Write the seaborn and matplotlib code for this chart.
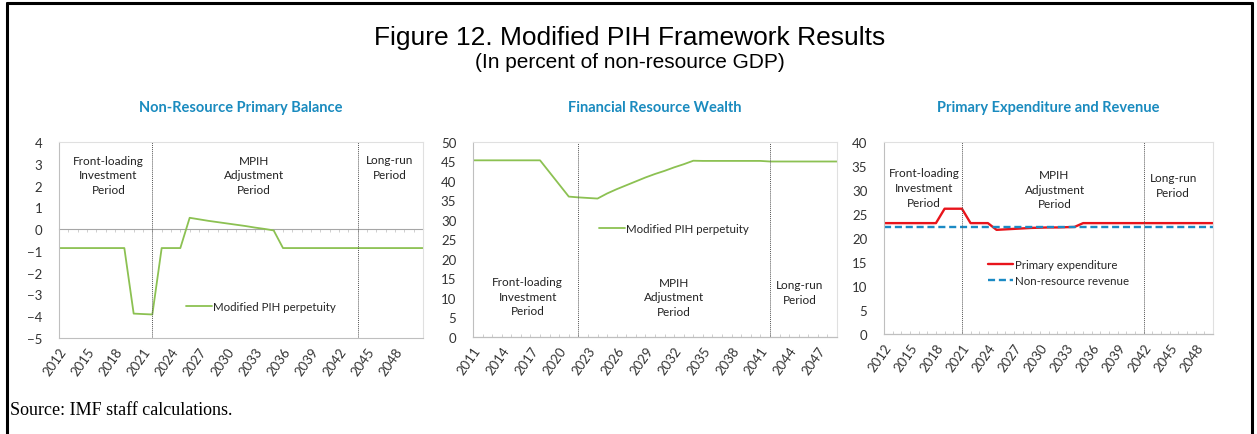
import numpy as np
import pandas as pd
import matplotlib
matplotlib.use("Agg")
import matplotlib.pyplot as plt
import seaborn as sns
from matplotlib.lines import Line2D
from matplotlib.ticker import MultipleLocator

# data
years_balance = list(range(2012, 2052))
primary_balance = ([-0.87] * 8 + [-3.88, -3.90, -3.92] + [-0.87] * 3 +
                   [0.52, 0.45, 0.38, 0.32, 0.26, 0.20, 0.14, 0.07, 0.01, -0.06] +
                   [-0.87] * 16)

years_wealth = list(range(2011, 2050))
resource_wealth = ([45.3] * 8 + [42.2, 39.1, 36.0] + [35.8, 35.65, 35.5] +
                   [36.8, 37.9, 38.9, 39.9, 40.9, 41.8, 42.6, 43.5, 44.3, 45.2] +
                   [45.15] * 7 + [45.0] * 8)

years_exp = list(range(2012, 2051))
primary_expenditure = ([23.1] * 7 + [26.1] * 3 + [23.1] * 3 +
                       [21.7, 21.8, 21.9, 22.0, 22.1, 22.15, 22.2, 22.2, 22.25, 22.3] +
                       [23.1] * 16)
nonresource_revenue = [22.2] * 39

period_labels = ["Front-loading\nInvestment\nPeriod", "MPIH\nAdjustment\nPeriod", "Long-run\nPeriod"]
panel_titles = ["Non-Resource Primary Balance", "Financial Resource Wealth",
                "Primary Expenditure and Revenue"]

GREEN = "#8cc152"
RED = "#e8141b"
BLUE = "#1b8ac4"
TEAL = "#1a8bbf"
GRID = "#bfbfbf"

sns.set_theme(style="white")
plt.rcParams["font.family"] = ["Lato", "DejaVu Sans"]

W, H = 1257, 435
fig = plt.figure(figsize=(W / 100, H / 100), dpi=100)


def px_axes(left, right, top, bottom):
    return fig.add_axes([left / W, 1 - bottom / H, (right - left) / W, (bottom - top) / H])


def style_axes(ax, xmin, xmax, first_label):
    ax.set_xlim(xmin, xmax)
    ax.set_xticks(range(first_label, 2049, 3))
    ax.set_xticklabels([str(y) for y in range(first_label, 2049, 3)], rotation=55,
                       ha="right", rotation_mode="anchor", fontsize=9.5, color="#333333")
    ax.tick_params(axis="y", labelsize=9.5, colors="#333333", length=0, pad=12)
    ax.tick_params(axis="x", length=0, pad=5)
    for side in ["top", "right"]:
        ax.spines[side].set_color("#e0e0e0")
        ax.spines[side].set_linewidth(0.8)
    ax.spines["left"].set_color(GRID)
    ax.spines["left"].set_linewidth(0.8)
    ax.spines["bottom"].set_color(GRID)
    ax.spines["bottom"].set_linewidth(0.8)
    ax.set_xlabel("")
    ax.set_ylabel("")


def year_ticks(ax, loc):
    sec = ax.secondary_xaxis(loc)
    sec.xaxis.set_major_locator(MultipleLocator(1))
    sec.tick_params(axis="x", direction="in", length=2.5, width=0.6, color="#c8c8c8",
                    labelbottom=False, labeltop=False)
    for sp in sec.spines.values():
        sp.set_color("#a6a6a6")
        sp.set_linewidth(0.8)
    return sec


def period_text(ax, positions):
    for (x, y), label in zip(positions, period_labels):
        ax.text(x, y, label, ha="center", va="center", fontsize=8.5, linespacing=1.4,
                color="#222222")


# Panel 1
ax1 = px_axes(59, 423, 143, 339)
df1 = pd.DataFrame({"year": years_balance, "value": primary_balance})
sns.lineplot(data=df1, x="year", y="value", ax=ax1, color=GREEN, lw=1.3,
             label="Modified PIH perpetuity")
ax1.set_ylim(-5, 4)
ax1.set_yticks(range(-5, 5))
style_axes(ax1, 2012, 2051, 2012)
year_ticks(ax1, 5 / 9)
ax1.axvline(2022, color="#555555", lw=0.7, ls=(0, (1, 1)))
ax1.axvline(2044, color="#555555", lw=0.7, ls=(0, (1, 1)))
period_text(ax1, [(2017.3, 2.5), (2032.9, 2.5), (2047.4, 2.85)])
ax1.legend(loc="center", bbox_to_anchor=(0.555, 0.163), frameon=False, fontsize=8.3,
           handlelength=2.2, handletextpad=0.1)

# Panel 2
ax2 = px_axes(473, 837, 143, 338)
df2 = pd.DataFrame({"year": years_wealth, "value": resource_wealth})
sns.lineplot(data=df2, x="year", y="value", ax=ax2, color=GREEN, lw=1.3,
             label="Modified PIH perpetuity")
ax2.set_ylim(0, 50)
ax2.set_yticks(range(0, 51, 5))
style_axes(ax2, 2011, 2049, 2011)
year_ticks(ax2, 0)
ax2.axvline(2022, color="#555555", lw=0.7, ls=(0, (1, 1)))
ax2.axvline(2042, color="#555555", lw=0.7, ls=(0, (1, 1)))
period_text(ax2, [(2016.7, 10.5), (2032.0, 10.3), (2045.1, 11.6)])
ax2.legend(loc="center", bbox_to_anchor=(0.552, 0.554), frameon=False, fontsize=8.3,
           handlelength=2.2, handletextpad=0.1)

# Panel 3
ax3 = px_axes(884, 1213, 143, 335)
df3 = pd.DataFrame({"year": years_exp * 2,
                    "value": primary_expenditure + nonresource_revenue,
                    "series": ["Primary expenditure"] * len(years_exp) +
                              ["Non-resource revenue"] * len(years_exp)})
sns.lineplot(data=df3, x="year", y="value", hue="series", style="series", ax=ax3,
             palette=[RED, BLUE], dashes=[(None, None), (3, 1.6)], lw=1.7)
ax3.set_ylim(0, 40)
ax3.set_yticks(range(0, 41, 5))
style_axes(ax3, 2012, 2050, 2012)
year_ticks(ax3, 0)
ax3.axvline(2021, color="#555555", lw=0.7, ls=(0, (1, 1)))
ax3.axvline(2042, color="#555555", lw=0.7, ls=(0, (1, 1)))
period_text(ax3, [(2016.6, 30.5), (2031.7, 30.2), (2045.4, 31.0)])
ax3.legend(loc="center", bbox_to_anchor=(0.53, 0.32), frameon=False, fontsize=8.3,
           handlelength=2.2, handletextpad=0.1, labelspacing=0.5)

# panel titles
for ax, title in zip([ax1, ax2, ax3], panel_titles):
    ax.set_title(title, fontsize=10.5, fontweight="bold", color=TEAL, pad=22)

# figure header and footer
fig.text(630 / W, 1 - 38 / H, "Figure 12. Modified PIH Framework Results", ha="center",
         va="center", fontsize=19, family="Liberation Sans", color="black")
fig.text(630 / W, 1 - 63 / H, "(In percent of non-resource GDP)", ha="center",
         va="center", fontsize=15, family="Liberation Sans", color="black")
fig.text(10 / W, 1 - 411 / H, "Source: IMF staff calculations.", ha="left", va="center",
         fontsize=13, family="Liberation Serif", color="black")

# outer frame
frame_kw = dict(color="black", lw=2.2, transform=fig.transFigure)
fig.add_artist(Line2D([7 / W, 1252 / W], [1 - 4 / H, 1 - 4 / H], **frame_kw))
fig.add_artist(Line2D([7 / W, 7 / W], [1 - 4 / H, 0], **frame_kw))
fig.add_artist(Line2D([1252 / W, 1252 / W], [1 - 4 / H, 0], **frame_kw))

fig.savefig("out.png", dpi=100)
